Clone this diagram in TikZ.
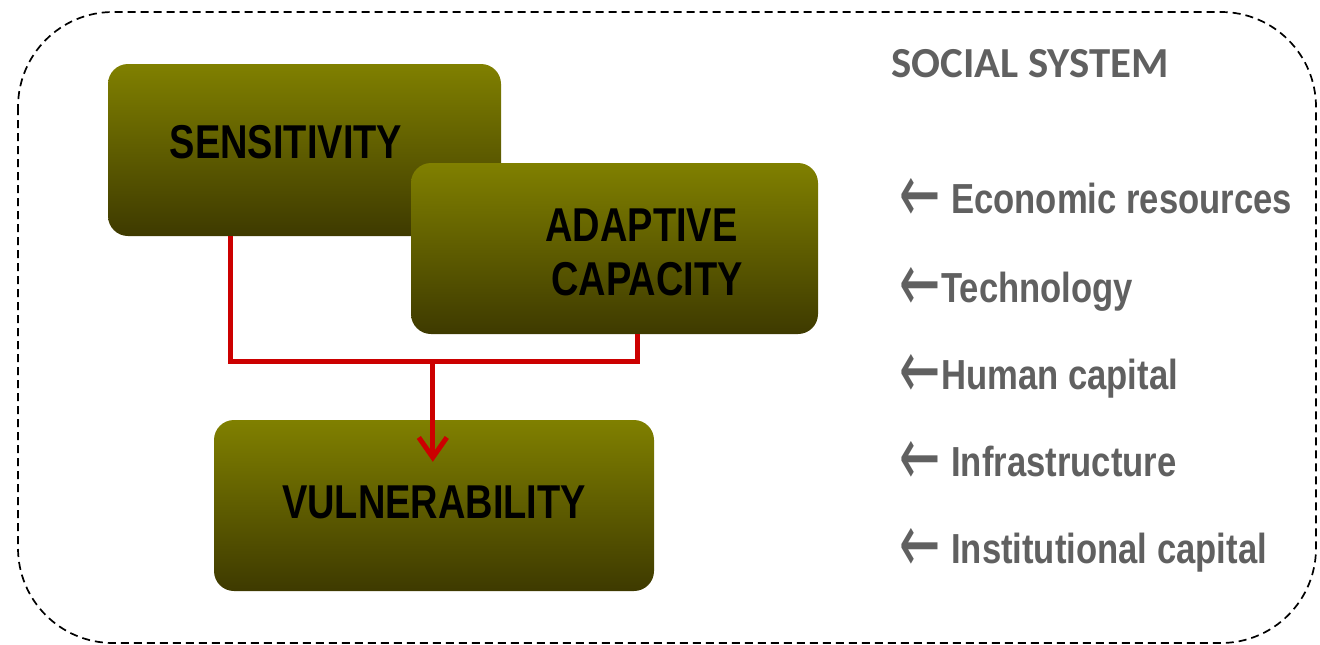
\documentclass[tikz,border=0pt]{standalone}
\usepackage{fontspec}
\setmainfont{Liberation Sans}
\newfontfamily\narrowfont[FakeStretch=0.8]{Liberation Sans}
\newfontfamily\itemfont[FakeStretch=0.825]{Liberation Sans}
\newfontfamily\calfont{Carlito}
\newfontfamily\arrowfont{DejaVu Sans}
\usetikzlibrary{arrows.meta,calc}
\definecolor{olivetop}{RGB}{128,128,0}
\definecolor{olivebot}{RGB}{62,58,0}
\definecolor{redline}{RGB}{204,0,0}
\definecolor{graytext}{RGB}{96,96,96}
\begin{document}
\begin{tikzpicture}[x=1pt,y=-1pt,
  box/.style={rounded corners=20pt, top color=olivetop, bottom color=olivebot, draw=none, inner sep=0pt},
  boxtext/.style={inner sep=0pt, anchor=base, font=\narrowfont\bfseries\fontsize{47.5}{53}\selectfont, text=black},
  titletext/.style={inner sep=0pt, anchor=base west, font=\calfont\bfseries\fontsize{42.8}{48}\selectfont, text=graytext},
  itemtext/.style={inner sep=0pt, anchor=base west, font=\itemfont\bfseries\fontsize{42}{48}\selectfont, text=graytext},
  arrowglyph/.style={inner sep=0pt, anchor=center, font=\arrowfont\fontsize{44}{48}\selectfont, text=graytext, xscale=1.12, yscale=1.9},
  conn/.style={draw=redline, line width=5pt, line join=miter}
]
\path[use as bounding box] (0,0) rectangle (1320,645);
\draw[dash pattern=on 8pt off 5pt, line width=1.7pt, rounded corners=95pt] (18,12) rectangle (1316,643);

\node[box, minimum width=393pt, minimum height=172pt] (sens) at (304.5,150) {};
\node[box, minimum width=407pt, minimum height=171pt] (adap) at (614.5,248.5) {};
\node[box, minimum width=440pt, minimum height=171pt] (vuln) at (434,505.5) {};

\node[boxtext] (senst) at (286,158) {SENSITIVITY};
\node[boxtext] (adapt1) at (641.5,241) {ADAPTIVE};
\node[boxtext] (adapt2) at (647,295) {CAPACITY};
\node[boxtext] (vulnt) at (434,518) {VULNERABILITY};

\coordinate (sdrop) at ($(sens.south west)+(123,0)$);
\coordinate (adrop) at ($(adap.south west)+(227,0)$);
\coordinate (jn) at ($(vuln.north west)+(219,-59)$);
\coordinate (tip) at ($(vuln.north west)+(219,42)$);
\draw[conn] (sdrop) |- ($(adrop)+(0,27)$) -- (adrop);
\draw[conn, -{Straight Barb[length=20pt,width=28pt]}] (jn) -- (tip);

\node[titletext] (title) at (891,77) {SOCIAL SYSTEM};
\node[arrowglyph] (a1) at (920.5,200) {←};
\node[itemtext] (i1) at (951,213) {Economic resources};
\node[arrowglyph] (a2) at (920.5,289) {←};
\node[itemtext] (i2) at (941,302) {Technology};
\node[arrowglyph] (a3) at (920.5,376) {←};
\node[itemtext] (i3) at (941,389) {Human capital};
\node[arrowglyph] (a4) at (920.5,463) {←};
\node[itemtext] (i4) at (951,476) {Infrastructure};
\node[arrowglyph] (a5) at (920.5,550) {←};
\node[itemtext] (i5) at (951,563) {Institutional capital};
\end{tikzpicture}
\end{document}
